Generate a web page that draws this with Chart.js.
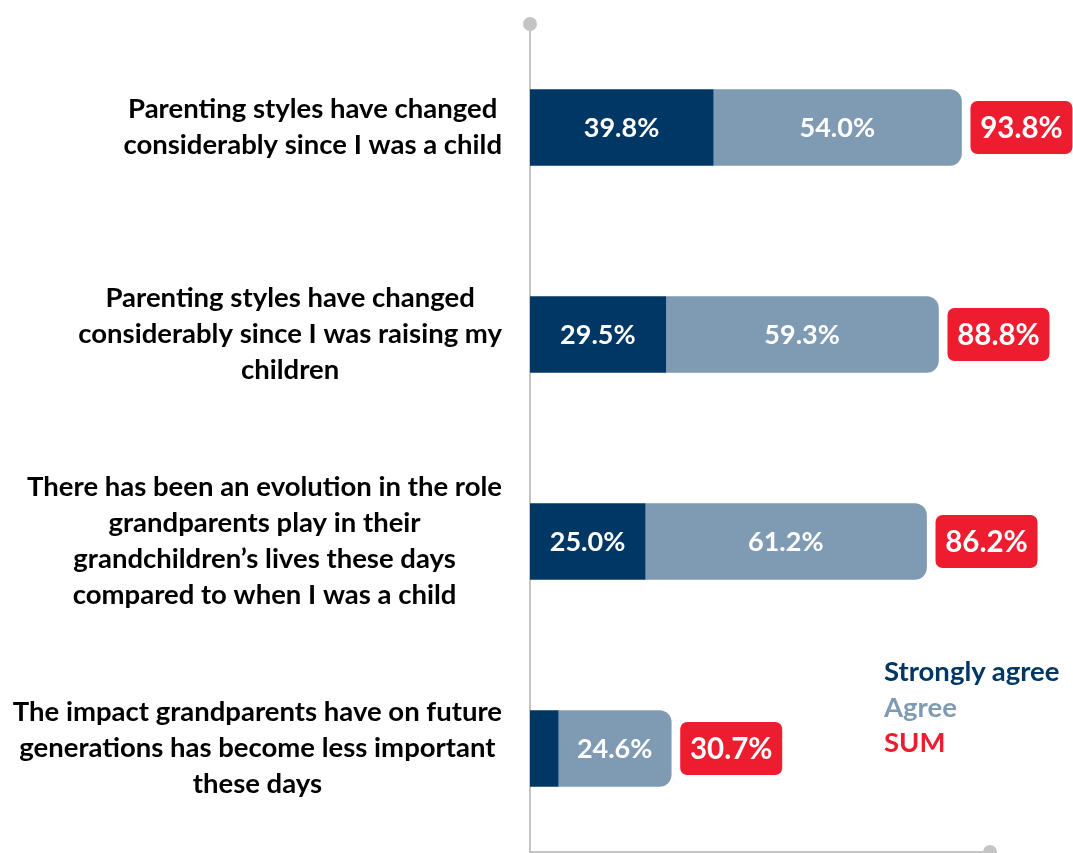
<!DOCTYPE html>
<html>
<head>
<meta charset="utf-8">
<script src="https://cdn.jsdelivr.net/npm/chart.js@4/dist/chart.umd.min.js"></script>
<style>
  html, body { margin: 0; padding: 0; background: #fff; }
  #wrap { position: relative; width: 1073px; height: 853px; }
  #leyenda { position: absolute; left: 884px; top: 653px; font-family: Lato, "Open Sans", sans-serif; font-weight: 700; font-size: 27.5px; line-height: 35.5px; }
</style>
</head>
<body>
<div id="wrap">
  <canvas id="grafico" width="1073" height="853"></canvas>
  <div id="leyenda">
    <div style="color:#003764">Strongly agree</div>
    <div style="color:#7f9bb4">Agree</div>
    <div style="color:#ed1c2e">SUM</div>
  </div>
</div>
<script>
// datos
const categorias = [
    ['Parenting styles have changed', 'considerably since I was a child'],
    ['Parenting styles have changed', 'considerably since I was raising my', 'children'],
    ['There has been an evolution in the role', 'grandparents play in their', 'grandchildren\u2019s lives these days', 'compared to when I was a child'],
    ['The impact grandparents have on future', 'generations has become less important', 'these days']
];
const muyDeAcuerdo = [39.8, 29.5, 25.0, 6.1];
const deAcuerdo = [54.0, 59.3, 61.2, 24.6];
const sumas = [93.8, 88.8, 86.2, 30.7];

const colorOscuro = '#003764';
const colorClaro = '#7f9bb4';
const colorRojo = '#ed1c2e';
const fuente = 'Lato, "Open Sans", sans-serif';

// etiquetas dentro de las barras, cajas rojas con la suma y textos de categoría
const pluginEtiquetas = {
    id: 'etiquetas',
    afterDatasetsDraw(chart) {
        const ctx = chart.ctx;
        ctx.save();
        ctx.font = '700 27px ' + fuente;
        ctx.fillStyle = '#fff';
        ctx.textAlign = 'center';
        ctx.textBaseline = 'middle';
        chart.data.datasets.forEach(function (ds, i) {
            chart.getDatasetMeta(i).data.forEach(function (bar, j) {
                const ancho = Math.abs(bar.x - bar.base);
                if (ancho < 60) return;
                ctx.fillText(ds.data[j].toFixed(1) + '%', (bar.x + bar.base) / 2, bar.y + 1);
            });
        });
        // cajas de la suma
        const xScale = chart.scales.x;
        const metaAgree = chart.getDatasetMeta(1);
        sumas.forEach(function (s, j) {
            const bar = metaAgree.data[j];
            const x0 = xScale.getPixelForValue(s) + 9;
            const w = 102, h = 53;
            ctx.fillStyle = colorRojo;
            ctx.beginPath();
            ctx.roundRect(x0, bar.y - h / 2, w, h, 7);
            ctx.fill();
            ctx.fillStyle = '#fff';
            ctx.font = '700 29.5px ' + fuente;
            ctx.fillText(s.toFixed(1) + '%', x0 + w / 2, bar.y + 1);
        });

        // textos de categoría: bloque alineado a la derecha, líneas centradas
        const yScale = chart.scales.y;
        const derecha = chart.chartArea.left - 28;
        const alto = 36;
        ctx.fillStyle = '#000';
        ctx.font = '700 27.5px ' + fuente;
        categorias.forEach(function (lineas, j) {
            const yc = yScale.getPixelForValue(j);
            let maxAncho = 0;
            lineas.forEach(function (l) { maxAncho = Math.max(maxAncho, ctx.measureText(l).width); });
            const xc = derecha - maxAncho / 2;
            const y0 = yc - (lineas.length - 1) * alto / 2;
            lineas.forEach(function (l, k) {
                ctx.fillText(l, xc, y0 + k * alto);
            });
        });
        ctx.restore();
    },
    afterDraw(chart) {
        // puntos en los extremos de los ejes
        const ctx = chart.ctx;
        const area = chart.chartArea;
        ctx.save();
        ctx.fillStyle = '#c4c4c4';
        ctx.beginPath();
        ctx.arc(area.left, area.top, 7, 0, Math.PI * 2);
        ctx.fill();
        ctx.beginPath();
        ctx.arc(area.right, area.bottom, 7, 0, Math.PI * 2);
        ctx.fill();
        ctx.restore();
    }
};

new Chart(document.getElementById('grafico'), {
    type: 'bar',
    data: {
        labels: categorias,
        datasets: [{
            label: 'Strongly agree',
            data: muyDeAcuerdo,
            backgroundColor: colorOscuro,
            barThickness: 76,
            borderRadius: 0
        }, {
            label: 'Agree',
            data: deAcuerdo,
            backgroundColor: colorClaro,
            barThickness: 76,
            borderRadius: 12,
            borderSkipped: 'start'
        }]
    },
    options: {
        indexAxis: 'y',
        responsive: false,
        animation: false,
        layout: {
            padding: { top: 24, right: 83, bottom: 1, left: 0 }
        },
        plugins: {
            legend: { display: false },
            tooltip: { enabled: false }
        },
        scales: {
            x: {
                stacked: true,
                min: 0,
                max: 100,
                grid: { display: false },
                ticks: { display: false },
                border: { display: true, color: '#c4c4c4', width: 2 },
                afterFit: function (scale) {
                    scale.height = 0;
                    scale.paddingLeft = 0;
                    scale.paddingRight = 0;
                }
            },
            y: {
                stacked: true,
                grid: { display: false },
                border: { display: true, color: '#c4c4c4', width: 2 },
                ticks: { display: false },
                afterFit: function (scale) {
                    scale.width = 530;
                    scale.paddingTop = 0;
                    scale.paddingBottom = 0;
                }
            }
        }
    },
    plugins: [pluginEtiquetas]
});
</script>
</body>
</html>
